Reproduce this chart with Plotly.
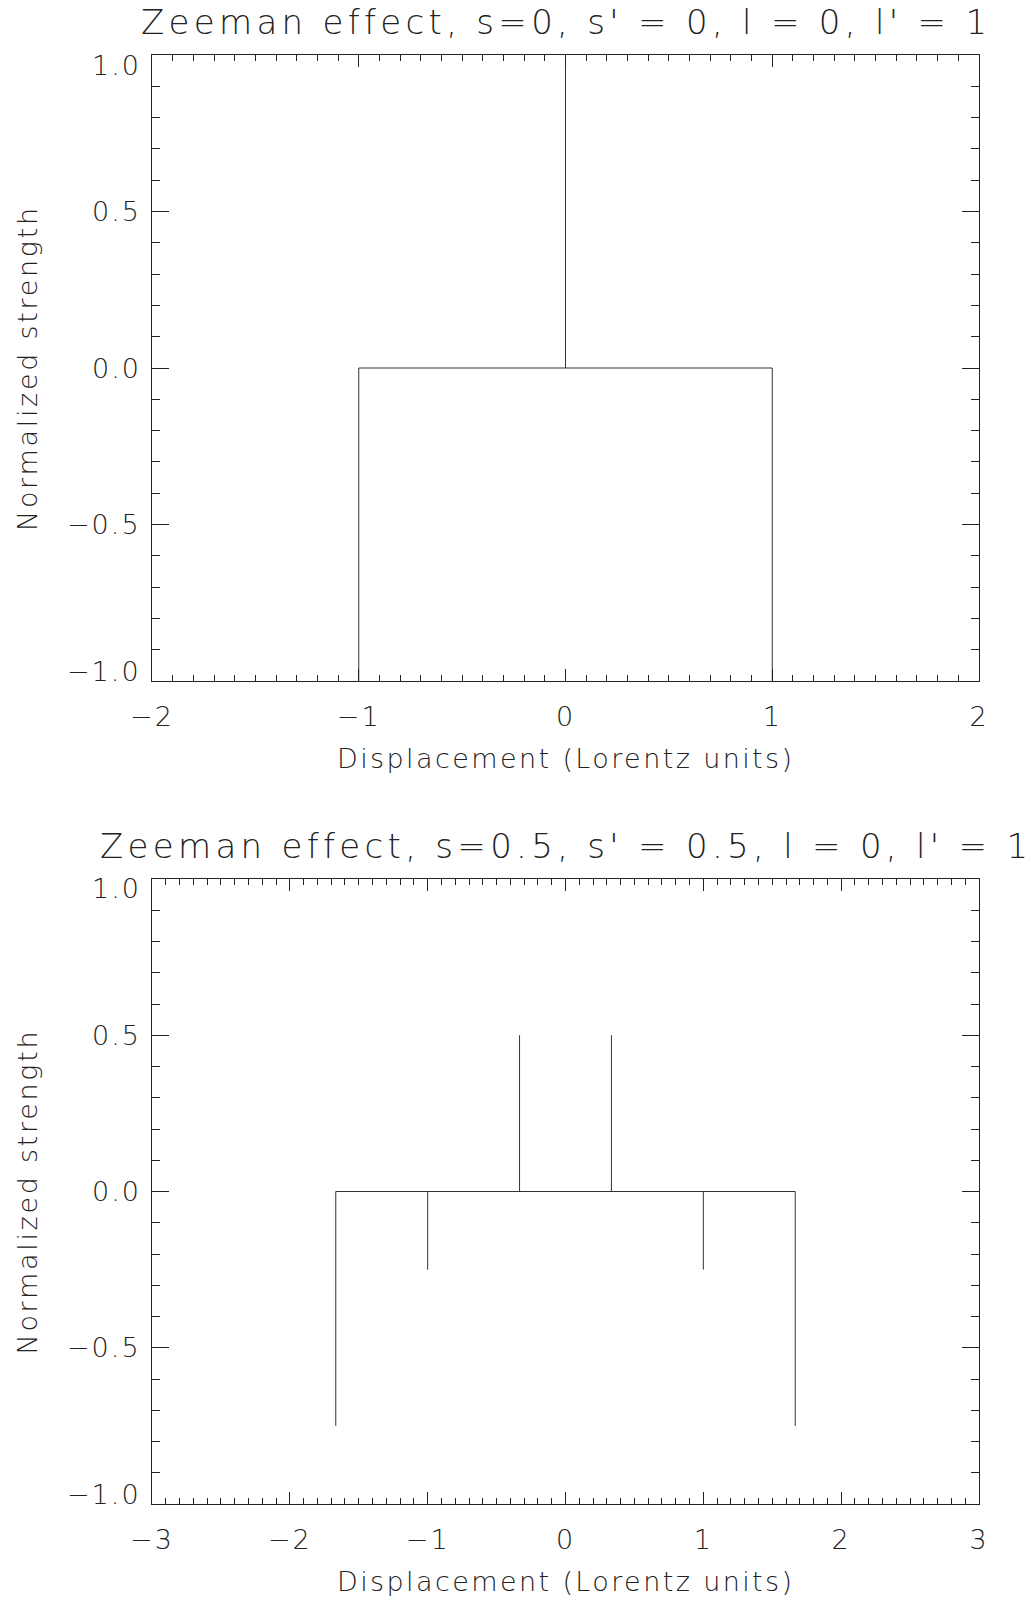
import plotly.graph_objects as go

# Zeeman splitting patterns: displacement (Lorentz units) and normalized strength.
# Positive strength = pi components, negative = sigma components.

# s=0, s'=0, l=0 -> l'=1 : normal triplet
normal_shift = [-1.0, 0.0, 1.0]
normal_strength = [-1.0, 1.0, -1.0]

# s=0.5, s'=0.5, l=0 -> l'=1 : anomalous pattern
anomalous_shift = [-5 / 3, -1.0, -1 / 3, 1 / 3, 1.0, 5 / 3]
anomalous_strength = [-0.75, -0.25, 0.5, 0.5, -0.25, -0.75]

panel_titles = [
    "Zeeman effect, s=0, s' = 0, l = 0, l' = 1",
    "Zeeman effect, s=0.5, s' = 0.5, l = 0, l' = 1",
]
x_ranges = [[-2, 2], [-3, 3]]
x_tickvals = [[-2, -1, 0, 1, 2], [-3, -2, -1, 0, 1, 2, 3]]
x_ticklabels = [["\u22122", "\u22121", "0", "1", "2"],
                ["\u22123", "\u22122", "\u22121", "0", "1", "2", "3"]]
y_range = [-1, 1]
y_tickvals = [-1.0, -0.5, 0.0, 0.5, 1.0]
y_ticklabels = ["\u22121.0", "\u22120.5", "0.0", "0.5", "1.0"]
x_title = "Displacement (Lorentz units)"
y_title = "Normalized strength"

W, H = 1031, 1600
LEFT, RIGHT = 152, 979
PANELS = [(55, 681), (879, 1504)]  # top/bottom pixel edges of each plot box

INK = "#222222"
FONT = dict(family="DejaVu Sans", size=27, color=INK, weight=200)
TITLE_FONT = dict(family="DejaVu Sans", size=34, color=INK, weight=200)


def spaced(text, px):
    return "<span style='letter-spacing:%.1fpx'>%s</span>" % (px, text)


def stick_path(shift, strength):
    """Baseline across the pattern plus one vertical stick per component."""
    xs = [min(shift), max(shift), None]
    ys = [0, 0, None]
    for s, v in zip(shift, strength):
        xs += [s, s, None]
        ys += [0, v, None]
    return xs, ys


def px_x(p):
    return p / W


def px_y(p):
    return 1 - p / H


fig = go.Figure()
data = [(normal_shift, normal_strength), (anomalous_shift, anomalous_strength)]

for i, ((shift, strength), (top, bot)) in enumerate(zip(data, PANELS)):
    n = "" if i == 0 else str(i + 1)
    xs, ys = stick_path(shift, strength)
    fig.add_trace(go.Scatter(
        x=xs, y=ys, mode="lines", xaxis="x" + n, yaxis="y" + n,
        line=dict(color="#333333", width=1), hoverinfo="skip", showlegend=False,
    ))

    axis_common = dict(
        showline=True, linecolor=INK, linewidth=1, mirror="allticks",
        ticks="inside", tickcolor=INK, tickwidth=1, automargin=False,
        showgrid=False, zeroline=False, tickfont=FONT,
    )
    fig.update_layout({
        "xaxis" + n: dict(
            axis_common, range=x_ranges[i], domain=[px_x(LEFT), px_x(RIGHT)],
            anchor="y" + n, tickmode="array", tickvals=x_tickvals[i],
            ticktext=[spaced(t, 2) for t in x_ticklabels[i]],
            ticklen=12, ticklabelstandoff=12,
            minor=dict(dtick=0.1, tick0=0, ticks="inside", ticklen=6,
                       tickcolor=INK, tickwidth=1, showgrid=False),
        ),
        "yaxis" + n: dict(
            axis_common, range=y_range, domain=[px_y(bot), px_y(top)],
            anchor="x" + n, tickmode="array", tickvals=y_tickvals,
            showticklabels=False, ticklen=17,
            minor=dict(dtick=0.1, tick0=0, ticks="inside", ticklen=8,
                       tickcolor=INK, tickwidth=1, showgrid=False),
        ),
    })

    # y tick labels: the end labels are pulled inside the axis span
    for v, label in zip(y_tickvals, y_ticklabels):
        shift_px = -10 if v == y_range[1] else (10 if v == y_range[0] else 0)
        fig.add_annotation(
            text=spaced(label, 2), xref="paper", yref="y" + n,
            x=px_x(143), y=v, xanchor="right", yanchor="middle",
            yshift=shift_px, showarrow=False, font=FONT,
        )

    mid_x = (LEFT + RIGHT) / 2
    mid_y = (top + bot) / 2
    fig.add_annotation(
        text=spaced(panel_titles[i], 4.3), xref="paper", yref="paper",
        x=px_x(mid_x), y=px_y(top - 33), xanchor="center", yanchor="middle",
        showarrow=False, font=TITLE_FONT,
    )
    fig.add_annotation(
        text=spaced(x_title, 2.4), xref="paper", yref="paper",
        x=px_x(mid_x), y=px_y(bot + 77), xanchor="center", yanchor="middle",
        showarrow=False, font=FONT,
    )
    fig.add_annotation(
        text=spaced(y_title, 2.7), xref="paper", yref="paper", textangle=-90,
        x=px_x(27), y=px_y(mid_y), xanchor="center", yanchor="middle",
        showarrow=False, font=FONT,
    )

fig.update_layout(
    template="none",
    width=W, height=H, margin=dict(l=0, r=0, t=0, b=0, pad=0),
    paper_bgcolor="white", plot_bgcolor="white",
)

fig.write_html("out.html")
